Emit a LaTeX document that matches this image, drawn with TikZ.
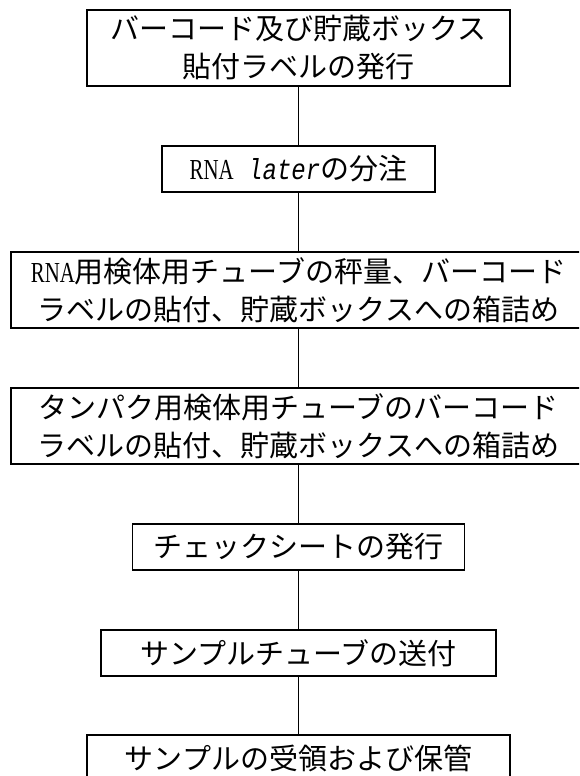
\documentclass[tikz,border=0pt]{standalone}
\usepackage{fontspec}
\setmainfont{Noto Sans CJK JP}
\newfontfamily\latinmono[FakeStretch=0.83]{Liberation Mono}
\newfontfamily\latinserif[FakeStretch=0.72]{Liberation Serif}
\tikzset{
  stepbox/.style={draw, line width=1.2pt, inner sep=0pt, align=center,
    font=\fontsize{29}{38}\selectfont},
  link/.style={line width=1.5pt}
}
\begin{document}
\begin{tikzpicture}[x=1pt,y=-1pt]
\useasboundingbox (0,0) rectangle (579,776);
\fill[white] (0,0) rectangle (579,776);
\clip (0,0) rectangle (579,776);
\node[stepbox, minimum width=423pt, minimum height=76pt] (b1) at (298.5,48)
  {バーコード及び貯蔵ボックス\\貼付ラベルの発行};
\node[stepbox, minimum width=273pt, minimum height=46pt] (b2) at (298.5,169)
  {{\latinserif RNA}{\latinmono\ \itshape later}の分注};
\node[stepbox, minimum width=575pt, minimum height=76pt] (b3) at (298.5,290)
  {{\latinserif RNA}用検体用チューブの秤量、バーコード\\ラベルの貼付、貯蔵ボックスへの箱詰め};
\node[stepbox, minimum width=575pt, minimum height=76pt] (b4) at (298.5,426)
  {タンパク用検体用チューブのバーコード\\ラベルの貼付、貯蔵ボックスへの箱詰め};
\node[stepbox, minimum width=332pt, minimum height=46pt] (b5) at (298.5,547)
  {チェックシートの発行};
\node[stepbox, minimum width=395pt, minimum height=46pt] (b6) at (298.5,653)
  {サンプルチューブの送付};
\node[stepbox, minimum width=423pt, minimum height=46pt] (b7) at (298.5,758)
  {サンプルの受領および保管};
\draw[link] (b1.south) -- (b2.north);
\draw[link] (b2.south) -- (b3.north);
\draw[link] (b3.south) -- (b4.north);
\draw[link] (b4.south) -- (b5.north);
\draw[link] (b5.south) -- (b6.north);
\draw[link] (b6.south) -- (b7.north);
\end{tikzpicture}
\end{document}
